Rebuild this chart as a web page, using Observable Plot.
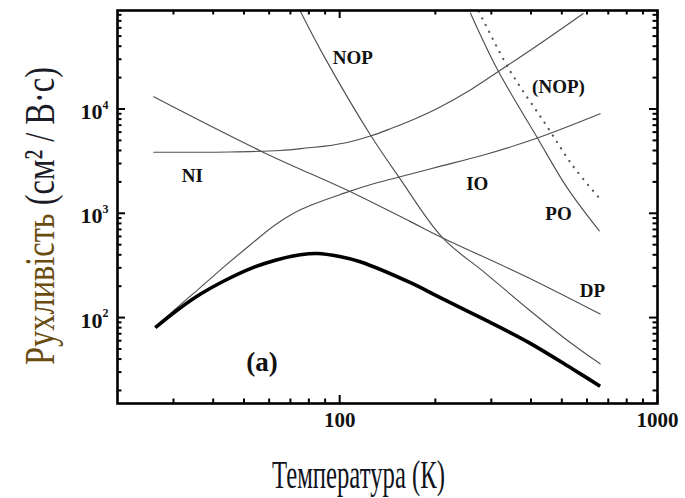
<!DOCTYPE html>
<html><head><meta charset="utf-8">
<script src="https://cdn.jsdelivr.net/npm/d3@7"></script>
<script src="https://cdn.jsdelivr.net/npm/@observablehq/plot@0.6"></script>
<style>html,body{margin:0;padding:0;background:#fff}</style>
</head><body><div id="chart"></div>
<script>
// Series: [temperature K, mobility cm²/(V·s)]
const total   = [[26.3,80],[31.1,120],[36.5,168],[43.7,228],[52.4,295],[62.8,355],[75.2,400],[85,412],[100,385],[116,343],[167,216],[205,158],[285,96],[394,57.6],[542,32],[660,22]];
const ionized = [[26.3,81],[31.1,128],[36.5,195],[43.7,315],[52.4,500],[62.8,777],[75.2,1082],[104,1570],[131,1960],[155,2240],[205,2800],[282,3600],[419,5270],[660,9000]];
const neutral = [[26,3850],[45,3870],[65,4000],[80,4250],[90,4400],[108,4850],[125,5500],[145,6500],[170,7900],[205,10300],[260,15500],[320,23500],[430,43000],[583,82000]];
const deformation = [[26,13100],[57,3900],[111,1550],[167,832],[211,580],[388,245],[660,108]];
const nonpolarOptical = [[75,88000],[89.5,31600],[125,5630],[154,2200],[211,580],[286,270],[394,119],[534,57],[660,36]];
const polarOptical = [[258,83000],[313,24200],[419,5270],[520,1750],[656,678]];
const nopAlt = [[274,86000],[281,74000],[344,23100],[444,7180],[543,2820],[656,1400]];

const labels = [
  {text:"NOP", T:110, mu:31000},
  {text:"(NOP)", T:488, mu:16300},
  {text:"NI", T:34.4, mu:2290},
  {text:"IO", T:271, mu:1910},
  {text:"PO", T:488, mu:986},
  {text:"DP", T:624, mu:181}
];
const panelLabel = [{text:"(a)", T:57, mu:37}];

const xMajor = [100, 1000];
const xMinor = [30,40,50,60,70,80,90,200,300,400,500,600,700,800,900];
const yMajor = [100, 1000, 10000];
const yMinor = [20,30,40,50,60,70,80,90,200,300,400,500,600,700,800,900,2000,3000,4000,5000,6000,7000,8000,9000,20000,30000,40000,50000,60000,70000,80000];

const W = 685, H = 498, mL = 117, mR = 28, mT = 10, mB = 95;
const pw = W - mL - mR, ph = H - mT - mB;
const serif = "Liberation Serif, Times New Roman, serif";
const thin = {x: d => d[0], y: d => d[1], stroke: "#505050", strokeWidth: 1.15, curve: "catmull-rom", clip: true};

const chart = Plot.plot({
  width: W, height: H,
  marginLeft: mL, marginRight: mR, marginTop: mT, marginBottom: mB,
  x: {type: "log", domain: [20, 1000], axis: null},
  y: {type: "log", domain: [15, 88000], axis: null},
  style: {fontFamily: serif, background: "#fff", overflow: "visible"},
  marks: [
    Plot.line(neutral, thin),
    Plot.line(deformation, thin),
    Plot.line(ionized, thin),
    Plot.line(nonpolarOptical, thin),
    Plot.line(polarOptical, thin),
    Plot.line(nopAlt, {...thin, stroke: "#555", strokeWidth: 2.2, strokeDasharray: "0.1 7.5", strokeLinecap: "round"}),
    Plot.line(total, {x: d => d[0], y: d => d[1], stroke: "#000", strokeWidth: 3.6, curve: "catmull-rom", strokeLinecap: "butt"}),
    Plot.text(labels, {x: "T", y: "mu", text: "text", fontSize: 19, fontWeight: "bold", fill: "#111", fontFamily: serif}),
    Plot.text(panelLabel, {x: "T", y: "mu", text: "text", fontSize: 27, fontWeight: "bold", fill: "#111", fontFamily: serif}),
    // inward ticks
    Plot.tickY(yMajor, {y: d => d, insetRight: pw - 8, stroke: "#000", strokeWidth: 2}),
    Plot.tickY(yMinor, {y: d => d, insetRight: pw - 4.5, stroke: "#000", strokeWidth: 2}),
    Plot.tickY(yMajor, {y: d => d, insetLeft: pw - 8, stroke: "#000", strokeWidth: 2}),
    Plot.tickY(yMinor, {y: d => d, insetLeft: pw - 4.5, stroke: "#000", strokeWidth: 2}),
    Plot.tickX(xMajor, {x: d => d, insetTop: ph - 8, stroke: "#000", strokeWidth: 2}),
    Plot.tickX(xMinor, {x: d => d, insetTop: ph - 4.5, stroke: "#000", strokeWidth: 2}),
    Plot.tickX(xMajor, {x: d => d, insetBottom: ph - 8, stroke: "#000", strokeWidth: 2}),
    Plot.tickX(xMinor, {x: d => d, insetBottom: ph - 4.5, stroke: "#000", strokeWidth: 2}),
    Plot.frame({stroke: "#000", strokeWidth: 2.6}),
    // tick labels
    Plot.text(xMajor, {x: d => d, frameAnchor: "bottom", dy: 17, text: d => String(d), fontSize: 21, fontWeight: "bold", fill: "#111", lineAnchor: "middle", fontFamily: serif}),
    Plot.text(yMajor, {y: d => d, frameAnchor: "left", dx: -15, dy: 3, textAnchor: "end", text: () => "10", fontSize: 22, fontWeight: "bold", fill: "#111", lineAnchor: "middle", fontFamily: serif}),
    Plot.text(yMajor, {y: d => d, frameAnchor: "left", dx: -15, dy: -4, textAnchor: "start", text: d => String(Math.round(Math.log10(d))), fontSize: 12, fontWeight: "bold", fill: "#111", lineAnchor: "middle", fontFamily: serif})
  ]
});

const svg = d3.select(chart);
svg.append("text")
  .attr("x", 358.5).attr("y", 488)
  .attr("text-anchor", "middle")
  .attr("font-family", serif).attr("font-size", 39)
  .attr("textLength", 173).attr("lengthAdjust", "spacingAndGlyphs")
  .attr("fill", "#10121c")
  .text("Температура (К)");

const yt = svg.append("text")
  .attr("transform", "translate(54,216) rotate(-90)")
  .attr("text-anchor", "middle")
  .attr("font-family", serif).attr("font-size", 42)
  .attr("textLength", 298).attr("lengthAdjust", "spacingAndGlyphs");
yt.append("tspan").attr("fill", "#6a4c10").text("Рухливість ");
yt.append("tspan").attr("fill", "#1c1c28").text("(см² / В·с)");

document.getElementById("chart").appendChild(chart);
</script>
</body></html>
